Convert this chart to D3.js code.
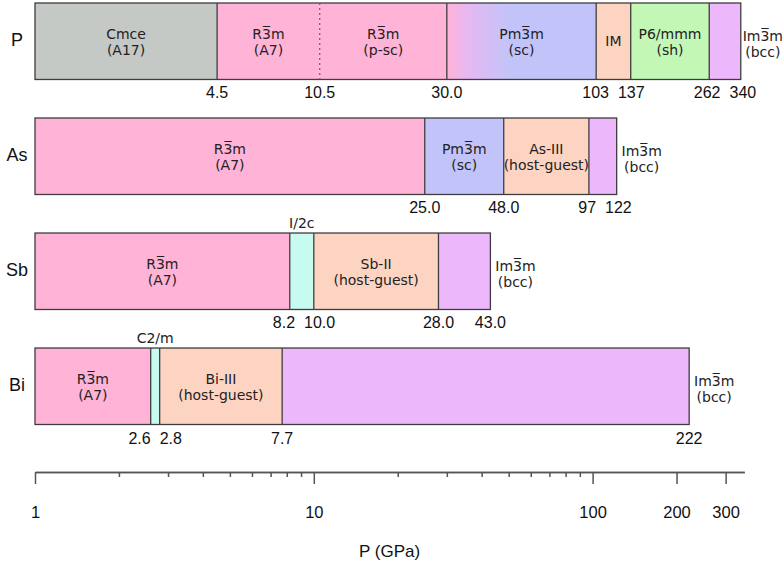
<!DOCTYPE html>
<html>
<head>
<meta charset="utf-8">
<script src="https://cdn.jsdelivr.net/npm/d3@7/dist/d3.min.js"></script>
<style>
  body { margin: 0; background: #fff; }
  svg { display: block; }
  .seg-label, .side-label { font-family: "DejaVu Sans", sans-serif; font-size: 14px; fill: #222; }
  .row-label { font-family: "Liberation Sans", Arial, sans-serif; font-size: 18px; fill: #111; }
  .bound-label { font-family: "Liberation Sans", Arial, sans-serif; font-size: 16px; fill: #111; }
  .axis-title { font-family: "Liberation Sans", Arial, sans-serif; font-size: 17px; fill: #111; }
  .axis text { font-family: "Liberation Sans", Arial, sans-serif; font-size: 16.5px; fill: #111; }
  .axis path, .axis line { stroke: #555; stroke-width: 1.5; }
</style>
</head>
<body>
<svg id="chart" width="784" height="563"></svg>
<script>
const elements = ["P", "As", "Sb", "Bi"];

// phases per element: pressure range (GPa), phase name, structure, structure type
const pPhases = [
  { from: 1, to: 4.5, name: "Cmce", sub: "(A17)", kind: "A17" },
  { from: 4.5, to: 10.5, name: "R3\u0305m", sub: "(A7)", kind: "A7" },
  { from: 10.5, to: 30.0, name: "R3\u0305m", sub: "(p-sc)", kind: "A7" },
  { from: 30.0, to: 103, name: "Pm3\u0305m", sub: "(sc)", kind: "scgrad" },
  { from: 103, to: 137, name: "IM", sub: "", kind: "hg" },
  { from: 137, to: 262, name: "P6/mmm", sub: "(sh)", kind: "sh" },
  { from: 262, to: 340, name: "Im3\u0305m", sub: "(bcc)", kind: "bcc", place: "right" }
];
const asPhases = [
  { from: 1, to: 25.0, name: "R3\u0305m", sub: "(A7)", kind: "A7" },
  { from: 25.0, to: 48.0, name: "Pm3\u0305m", sub: "(sc)", kind: "sc" },
  { from: 48.0, to: 97, name: "As-III", sub: "(host-guest)", kind: "hg" },
  { from: 97, to: 122, name: "Im3\u0305m", sub: "(bcc)", kind: "bcc", place: "right" }
];
const sbPhases = [
  { from: 1, to: 8.2, name: "R3\u0305m", sub: "(A7)", kind: "A7" },
  { from: 8.2, to: 10.0, name: "I/2c", sub: "", kind: "mono", place: "above" },
  { from: 10.0, to: 28.0, name: "Sb-II", sub: "(host-guest)", kind: "hg" },
  { from: 28.0, to: 43.0, name: "Im3\u0305m", sub: "(bcc)", kind: "bcc", place: "right" }
];
const biPhases = [
  { from: 1, to: 2.6, name: "R3\u0305m", sub: "(A7)", kind: "A7" },
  { from: 2.6, to: 2.8, name: "C2/m", sub: "", kind: "mono", place: "above" },
  { from: 2.8, to: 7.7, name: "Bi-III", sub: "(host-guest)", kind: "hg" },
  { from: 7.7, to: 222, name: "Im3\u0305m", sub: "(bcc)", kind: "bcc", place: "right" }
];
const phasesByElement = { P: pPhases, As: asPhases, Sb: sbPhases, Bi: biPhases };

// transition pressures written under each bar
const pBounds = ["4.5", "10.5", "30.0", "103", "137", "262", "340"];
const asBounds = ["25.0", "48.0", "97", "122"];
const sbBounds = ["8.2", "10.0", "28.0", "43.0"];
const biBounds = ["2.6", "2.8", "7.7", "222"];
const boundsByElement = { P: pBounds, As: asBounds, Sb: sbBounds, Bi: biBounds };

// boundaries drawn dotted instead of solid
const dottedBounds = { P: [10.5] };

const majorTicks = [1, 10, 100, 200, 300];
const minorTicks = [2, 3, 4, 5, 6, 7, 8, 9, 20, 30, 40, 50, 60, 70, 80, 90];

const kinds = ["A17", "A7", "sc", "hg", "sh", "bcc", "mono"];
const kindColors = ["#c4c9c6", "#ffb3d7", "#c2c4f9", "#fdd4c2", "#c2f7b6", "#edb7fb", "#c8fbef"];

const width = 784;
const svg = d3.select("#chart");
const color = d3.scaleOrdinal().domain(kinds).range(kindColors);

const x = d3.scaleLog().domain([1, 350]).range([35, 35 + 278.8 * Math.log10(350)]);
const y = d3.scaleBand().domain(elements).range([3, 424.5]).paddingInner(0.335).paddingOuter(0);

const defs = svg.append("defs");
const grad = defs.append("linearGradient").attr("id", "scgrad")
  .attr("x1", "0%").attr("x2", "100%").attr("y1", "0%").attr("y2", "0%");
grad.append("stop").attr("offset", "0%").attr("stop-color", color("A7"));
grad.append("stop").attr("offset", "14%").attr("stop-color", "#e6b8f2");
grad.append("stop").attr("offset", "42%").attr("stop-color", color("sc"));
grad.append("stop").attr("offset", "100%").attr("stop-color", color("sc"));

const fill = k => k === "scgrad" ? "url(#scgrad)" : color(k);

elements.forEach(el => {
  const phases = phasesByElement[el];
  const top = y(el), h = y.bandwidth(), mid = top + h / 2;
  const g = svg.append("g").attr("class", "row");
  const dotted = dottedBounds[el] || [];

  // segments (fill only)
  g.selectAll(".seg")
    .data(phases)
    .join("rect")
    .attr("class", "seg")
    .attr("x", d => x(d.from))
    .attr("y", top)
    .attr("width", d => x(d.to) - x(d.from))
    .attr("height", h)
    .attr("fill", d => fill(d.kind));

  // outline of the whole bar
  const x0 = x(phases[0].from), x1 = x(phases[phases.length - 1].to);
  g.append("rect")
    .attr("x", x0).attr("y", top)
    .attr("width", x1 - x0).attr("height", h)
    .attr("fill", "none").attr("stroke", "#3d3d3d").attr("stroke-width", 1.3);

  // internal boundaries
  const inner = phases.slice(1).map(d => d.from);
  g.selectAll(".bound")
    .data(inner)
    .join("line")
    .attr("x1", d => x(d)).attr("x2", d => x(d))
    .attr("y1", top).attr("y2", top + h)
    .attr("stroke", d => dotted.includes(d) ? "#7d5a6c" : "#3d3d3d")
    .attr("stroke-width", 1.3)
    .attr("stroke-dasharray", d => dotted.includes(d) ? "2,3" : null);

  // phase labels
  phases.forEach(d => {
    const cx = (x(d.from) + x(d.to)) / 2;
    if (d.place === "right") {
      const t = g.append("text").attr("class", "side-label").attr("text-anchor", "middle");
      const a = t.append("tspan").attr("x", x1 + 25).attr("y", mid).text(d.name);
      const b = t.append("tspan").attr("x", x1 + 25).attr("y", mid + 16).text(d.sub);
      // keep it inside the picture
      const w = Math.max(a.node().getComputedTextLength(), b.node().getComputedTextLength());
      const sx = Math.min(x1 + 25, width - 1 - w / 2);
      a.attr("x", sx);
      b.attr("x", sx);
    } else if (d.place === "above") {
      g.append("text").attr("class", "seg-label").attr("text-anchor", "middle")
        .attr("x", cx).attr("y", top - 5).text(d.name);
    } else if (d.sub) {
      const t = g.append("text").attr("class", "seg-label").attr("text-anchor", "middle");
      t.append("tspan").attr("x", cx).attr("y", mid - 2).text(d.name);
      t.append("tspan").attr("x", cx).attr("y", mid + 14).text(d.sub);
    } else {
      g.append("text").attr("class", "seg-label").attr("text-anchor", "middle")
        .attr("x", cx).attr("y", mid + 5).text(d.name);
    }
  });

  // pressure labels under the bar, nudged apart where they collide
  const labels = g.selectAll(".bound-label")
    .data(boundsByElement[el])
    .join("text")
    .attr("class", "bound-label")
    .attr("text-anchor", "middle")
    .attr("y", top + h + 19)
    .attr("x", d => x(+d))
    .text(d => d);

  const items = labels.nodes().map(n => ({ node: n, cx: x(+n.textContent), w: n.getComputedTextLength() }));
  const gap = 9;
  for (let iter = 0; iter < 20; iter++) {
    for (let i = 0; i < items.length - 1; i++) {
      const a = items[i], b = items[i + 1];
      const need = a.w / 2 + b.w / 2 + gap - (b.cx - a.cx);
      if (need > 0) { a.cx -= need / 2; b.cx += need / 2; }
    }
  }
  items.forEach(it => d3.select(it.node).attr("x", it.cx));

  // element name
  svg.append("text").attr("class", "row-label")
    .attr("text-anchor", "middle")
    .attr("x", 17).attr("y", mid + 5)
    .text(el);
});

// pressure axis
const axisY = 472;
svg.append("g").attr("class", "axis")
  .attr("transform", `translate(0,${axisY})`)
  .call(d3.axisBottom(x).tickValues(minorTicks).tickSize(5).tickSizeOuter(0).tickFormat(""));
svg.append("g").attr("class", "axis")
  .attr("transform", `translate(0,${axisY})`)
  .call(d3.axisBottom(x).tickValues(majorTicks).tickSize(12).tickSizeOuter(0).tickPadding(22).tickFormat(d3.format("d")));

svg.append("text").attr("class", "axis-title")
  .attr("text-anchor", "middle")
  .attr("x", (x.range()[0] + x.range()[1]) / 2)
  .attr("y", 557)
  .text("P (GPa)");
</script>
</body>
</html>
